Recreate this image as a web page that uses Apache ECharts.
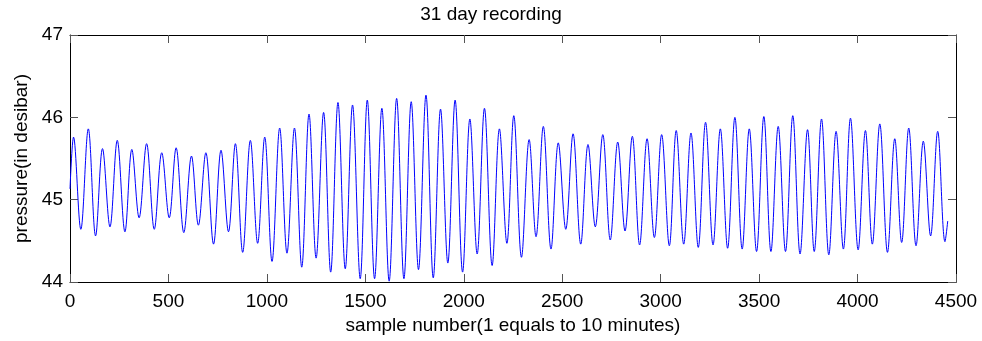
<!DOCTYPE html>
<html>
<head>
<meta charset="utf-8">
<script src="https://cdn.jsdelivr.net/npm/echarts@6/dist/echarts.min.js"></script>
<style>html,body{margin:0;padding:0;background:#fff}#c{width:982px;height:341px}</style>
</head>
<body>
<div id="c"></div>
<script>
var titleText = '31 day recording';
var xName = 'sample number(1 equals to 10 minutes)';
var yName = 'pressure(in desibar)';
// sample numbers at the turning points (peaks / troughs)
var sampleIdx = [0,
  18,55,93,130,165,203,240,279,314,351,389,428,466,504,539,578,617,652,690,729,
  767,805,840,877,916,953,989,1026,1065,1102,1140,1177,1214,1250,1288,1324,1361,1398,1435,1474,
  1510,1547,1584,1621,1659,1696,1733,1770,1808,1845,1882,1919,1956,1994,2031,2068,2105,2144,2181,2219,
  2254,2293,2332,2367,2404,2443,2480,2518,2555,2594,2631,2668,2706,2744,2782,2819,2856,2893,2931,2968,
  3005,3044,3079,3117,3154,3191,3228,3266,3303,3340,3377,3414,3450,3487,3524,3560,3597,3634,3671,3708,
  3746,3780,3817,3854,3891,3928,3964,4003,4040,4075,4113,4152,4189,4224,4260,4297,4334,4371,4407,4444,
  4458];
// pressure (desibar) at those samples
var pressure = [45.13,
  45.76,44.64,45.86,44.56,45.62,44.67,45.72,44.61,45.61,44.78,45.68,44.64,45.57,44.78,45.63,44.60,45.53,44.69,45.57,44.46,
  45.60,44.61,45.68,44.36,45.72,44.47,45.76,44.25,45.87,44.35,45.87,44.18,46.04,44.29,46.06,44.12,46.18,44.16,46.15,44.04,
  46.21,44.04,46.11,44.01,46.23,44.04,46.19,44.15,46.27,44.05,46.10,44.23,46.21,44.12,45.98,44.34,46.11,44.20,45.86,44.47,
  46.02,44.30,45.73,44.55,45.89,44.40,45.69,44.64,45.80,44.46,45.67,44.67,45.79,44.51,45.70,44.62,45.77,44.45,45.74,44.54,
  45.79,44.44,45.84,44.46,45.81,44.42,45.94,44.45,45.86,44.41,46.00,44.40,45.86,44.37,46.01,44.37,45.89,44.37,46.02,44.34,
  45.85,44.37,45.98,44.33,45.83,44.40,45.99,44.39,45.84,44.46,45.92,44.36,45.74,44.48,45.87,44.44,45.71,44.56,45.83,44.49,
  44.74];
var xMin = 0, xMax = 4500, xStep = 500;
var yMin = 44, yMax = 47, yStep = 1;

var pts = sampleIdx.map(function (s, i) { return [s, pressure[i]]; });
var FONT = 'Liberation Sans, Arial, Helvetica, sans-serif';
var chart = echarts.init(document.getElementById('c'), null, {renderer: 'canvas'});
function axisCommon(show) {
  return {
    axisLine: {show: true, onZero: false, lineStyle: {color: '#000', width: 1}},
    axisTick: {show: true, inside: true, length: 8, lineStyle: {color: '#555', width: 1}},
    splitLine: {show: false},
    axisLabel: {show: show, color: '#000', fontSize: 19, fontFamily: FONT,
      formatter: function (v) { return String(v); }}
  };
}
var xb = Object.assign(axisCommon(true), {type: 'value', position: 'bottom', min: xMin, max: xMax, interval: xStep,
  name: xName, nameLocation: 'middle', nameGap: 34,
  nameTextStyle: {color: '#000', fontSize: 19, fontFamily: FONT}});
xb.axisLabel.margin = 10;
var xt = Object.assign(axisCommon(false), {type: 'value', position: 'top', min: xMin, max: xMax, interval: xStep});
var yl = Object.assign(axisCommon(true), {type: 'value', position: 'left', min: yMin, max: yMax, interval: yStep,
  name: yName, nameLocation: 'middle', nameGap: 36,
  nameTextStyle: {color: '#000', fontSize: 19, fontFamily: FONT}});
yl.axisLabel.margin = 7;
var yr = Object.assign(axisCommon(false), {type: 'value', position: 'right', min: yMin, max: yMax, interval: yStep});

chart.setOption({
  animation: false,
  backgroundColor: '#fff',
  title: {text: titleText, left: 'center', top: 0,
    textStyle: {color: '#000', fontSize: 19, fontWeight: 'normal', fontFamily: FONT}},
  grid: {left: 70, right: 26, top: 35, bottom: 59, containLabel: false},
  xAxis: [xb, xt],
  yAxis: [yl, yr],
  series: [{
    type: 'line', xAxisIndex: 0, yAxisIndex: 0, data: pts,
    showSymbol: false, smooth: 0.36, clip: true,
    lineStyle: {color: '#0000ff', width: 1}
  }]
});
</script>
</body>
</html>
